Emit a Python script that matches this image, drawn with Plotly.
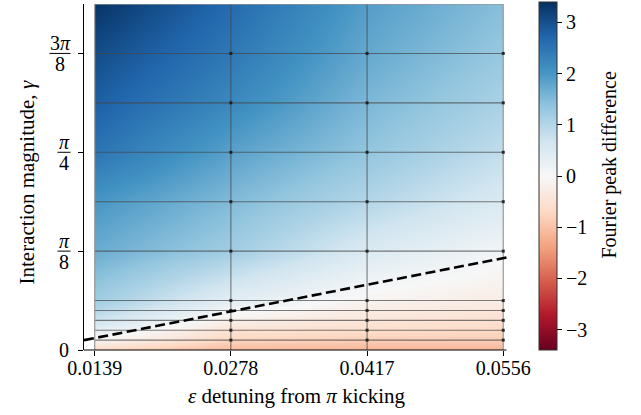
import numpy as np
import plotly.graph_objects as go

# ---- data -------------------------------------------------------------
# detuning from pi kicking (mesh node columns)
eps_nodes = [0.0139, 0.0278, 0.0417, 0.0556]
eps_tick_text = ["0.0139", "0.0278", "0.0417", "0.0556"]

# interaction magnitude gamma (mesh node rows), in units of pi
gamma_nodes_pi = [0, 1 / 80, 2 / 80, 3 / 80, 4 / 80, 1 / 16,
                  2 / 16, 3 / 16, 4 / 16, 5 / 16, 6 / 16, 7 / 16]

# Fourier peak difference at each node, one row per gamma value (bottom -> top)
fpd_rows = [
    [-0.70, -1.10, -1.15, -1.15],
    [-0.05, -0.75, -0.85, -0.85],
    [0.35, -0.50, -0.60, -0.70],
    [0.70, -0.17, -0.40, -0.55],
    [1.00, 0.10, -0.27, -0.40],
    [1.20, 0.35, -0.10, -0.27],
    [1.70, 1.20, 0.50, 0.10],
    [2.00, 1.50, 1.00, 0.50],
    [2.50, 1.85, 1.35, 0.85],
    [2.80, 2.20, 1.55, 1.10],
    [3.05, 2.45, 1.75, 1.30],
    [3.35, 2.65, 1.90, 1.45],
]

# gamma ticks (units of pi) and their fraction labels
gamma_tick_pi = [0, 1 / 8, 1 / 4, 3 / 8]
gamma_tick_num = ["0", "<i>π</i>", "<i>π</i>", "3<i>π</i>"]
gamma_tick_den = ["", "8", "4", "8"]

# dashed boundary line
boundary_eps = [0.01281, 0.05639]
boundary_gamma = [0.039, 0.371]

cbar_ticks = [-3, -2, -1, 0, 1, 2, 3]
z_lim = 3.4

# ---- layout constants -------------------------------------------------
W, H = 641, 415
PL, PR, PT, PB = 84, 511, 3, 350          # plot area edges in pixels
x_range = [0.01281, 0.05639]
FONT = "Liberation Serif"
FS = 20
FS_TITLE = 21

gamma_nodes = [g * np.pi for g in gamma_nodes_pi]
gamma_ticks = [g * np.pi for g in gamma_tick_pi]
y_range = [0, gamma_nodes[-1]]


def px_x(px):
    return (px - PL) / (PR - PL)


def px_y(py):
    return (PB - py) / (PB - PT)


# matplotlib RdBu
rdbu = ["#67001f", "#b2182b", "#d6604d", "#f4a582", "#fddbc7", "#f7f7f7",
        "#d1e5f0", "#92c5de", "#4393c3", "#2166ac", "#053061"]
colorscale = [[i / 10, c] for i, c in enumerate(rdbu)]

fig = go.Figure()

# smoothly shaded mesh
fig.add_trace(go.Heatmap(
    x=eps_nodes, y=gamma_nodes, z=fpd_rows, zsmooth="best",
    colorscale=colorscale, zmin=-z_lim, zmax=z_lim,
    xaxis="x", yaxis="y", hoverinfo="skip",
    colorbar=dict(
        x=px_x(539), xanchor="left", y=px_y(2), yanchor="top",
        thickness=18, lenmode="pixels", len=348, xpad=0, ypad=0,
        outlinewidth=1, outlinecolor="#333333",
        tickvals=cbar_ticks, ticks="outside", ticklen=5, tickwidth=1,
        tickcolor="black",
        tickfont=dict(family=FONT, size=FS, color="black"),
    ),
))

# mesh edges
e0, e1 = eps_nodes[0], eps_nodes[-1]
inner_x, inner_y = [], []
for g in gamma_nodes[1:-1]:
    inner_x += [e0, e1, None]
    inner_y += [g, g, None]
for e in eps_nodes[1:-1]:
    inner_x += [e, e, None]
    inner_y += [0, gamma_nodes[-1], None]
fig.add_trace(go.Scatter(
    x=inner_x, y=inner_y, mode="lines", xaxis="x2", yaxis="y2",
    line=dict(color="rgba(70,70,70,0.7)", width=1.1), hoverinfo="skip",
    showlegend=False))

border_x = [e0, e0, None, e1, e1, None, e0, e1]
border_y = [0, gamma_nodes[-1], None, 0, gamma_nodes[-1], None,
            gamma_nodes[-1], gamma_nodes[-1]]
fig.add_trace(go.Scatter(
    x=border_x, y=border_y, mode="lines", xaxis="x2", yaxis="y2",
    line=dict(color="rgba(150,150,150,0.9)", width=1.3), hoverinfo="skip",
    showlegend=False))

node_x, node_y = [], []
for e in eps_nodes[1:]:
    for g in gamma_nodes[1:-1]:
        node_x.append(e)
        node_y.append(g)
fig.add_trace(go.Scatter(
    x=node_x, y=node_y, mode="markers", xaxis="x2", yaxis="y2",
    marker=dict(symbol="square", size=3, color="rgba(25,25,25,0.9)",
                line=dict(width=0)),
    hoverinfo="skip", showlegend=False))

# dashed boundary
fig.add_trace(go.Scatter(
    x=boundary_eps, y=boundary_gamma, mode="lines", xaxis="x2", yaxis="y2",
    line=dict(color="black", width=2.6, dash="10px,4.5px"),
    hoverinfo="skip", showlegend=False))

# ---- axes -------------------------------------------------------------
x_dom = [(eps_nodes[0] - x_range[0]) / (x_range[1] - x_range[0]),
         (eps_nodes[-1] - x_range[0]) / (x_range[1] - x_range[0])]

fig.update_layout(
    width=W, height=H,
    margin=dict(l=PL, r=W - PR, t=PT, b=H - PB, pad=0),
    paper_bgcolor="white", plot_bgcolor="rgba(0,0,0,0)",
    showlegend=False,
    font=dict(family=FONT, size=FS, color="black"),
    xaxis=dict(domain=x_dom, range=[eps_nodes[0], eps_nodes[-1]],
               visible=False, anchor="y"),
    yaxis=dict(domain=[0, 1], range=y_range, visible=False, anchor="x"),
    xaxis2=dict(domain=[0, 1], range=x_range, anchor="y2",
                tickvals=eps_nodes, ticktext=eps_tick_text,
                ticks="outside", ticklen=5, tickwidth=1.2, tickcolor="black",
                ticklabelstandoff=-5,
                showline=False, showgrid=False, zeroline=False,
                tickfont=dict(family=FONT, size=FS, color="black")),
    yaxis2=dict(domain=[0, 1], range=y_range, anchor="x2",
                tickvals=gamma_ticks, showticklabels=False,
                ticks="outside", ticklen=5, tickwidth=1.2, tickcolor="black",
                showline=True, linecolor="black", linewidth=1.2,
                showgrid=False, zeroline=False),
)

shapes = []
annotations = []

# bottom spine
shapes.append(dict(type="line", xref="paper", yref="paper",
                   x0=0, x1=px_x(506.5), y0=0, y1=0,
                   line=dict(color="black", width=1.2)))

# gamma tick labels as stacked fractions
label_right = 70.5
for val, num, den in zip(gamma_ticks, gamma_tick_num, gamma_tick_den):
    if not den:
        annotations.append(dict(
            x=px_x(label_right), y=val, xref="paper", yref="y2",
            xanchor="right", yanchor="middle", text=num, showarrow=False,
            font=dict(family=FONT, size=FS, color="black")))
        continue
    bar_w = 13 + 8 * (len(num.replace("<i>π</i>", "")))
    cx = label_right - bar_w / 2
    annotations.append(dict(
        x=px_x(cx), y=val, xref="paper", yref="y2", xanchor="center",
        yanchor="middle", yshift=10, text=num, showarrow=False,
        font=dict(family=FONT, size=FS, color="black")))
    annotations.append(dict(
        x=px_x(cx), y=val, xref="paper", yref="y2", xanchor="center",
        yanchor="middle", yshift=-11, text=den, showarrow=False,
        font=dict(family=FONT, size=FS, color="black")))
    shapes.append(dict(type="line", xref="paper", yref="y2",
                       x0=px_x(cx - bar_w / 2), x1=px_x(cx + bar_w / 2),
                       y0=val, y1=val, line=dict(color="black", width=1)))

# axis titles
annotations.append(dict(
    x=px_x(297), y=px_y(396), xref="paper", yref="paper",
    xanchor="center", yanchor="middle", showarrow=False,
    text="<i>ε</i> detuning from <i>π</i> kicking",
    font=dict(family=FONT, size=FS_TITLE, color="black")))
annotations.append(dict(
    x=px_x(27), y=px_y(182), xref="paper", yref="paper",
    xanchor="center", yanchor="middle", showarrow=False, textangle=-90,
    text="Interaction magnitude, <i>γ</i>",
    font=dict(family=FONT, size=FS_TITLE, color="black")))
annotations.append(dict(
    x=px_x(610), y=px_y(165), xref="paper", yref="paper",
    xanchor="center", yanchor="middle", showarrow=False, textangle=-90,
    text="Fourier peak difference",
    font=dict(family=FONT, size=FS, color="black")))

fig.update_layout(shapes=shapes, annotations=annotations)

fig.write_html("out.html")
